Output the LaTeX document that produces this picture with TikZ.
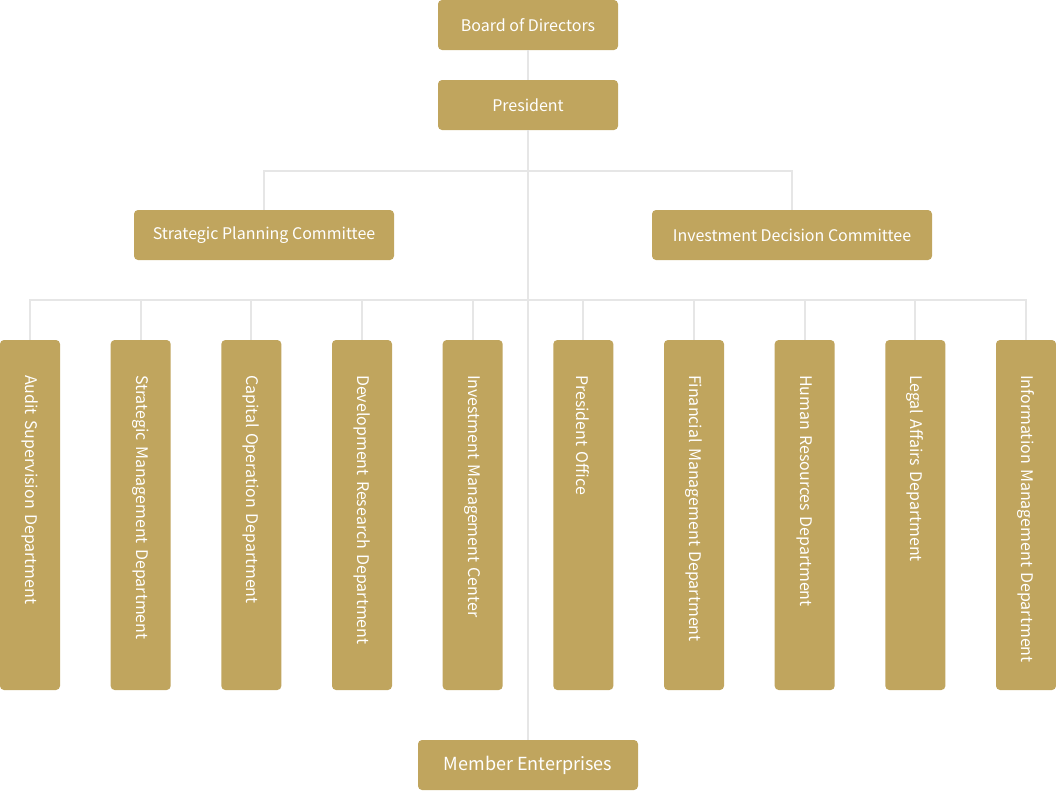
\documentclass[tikz,border=0pt]{standalone}
\usepackage{fontspec}
\setmainfont{Noto Sans CJK SC}
\usetikzlibrary{positioning}

\definecolor{gold}{HTML}{C0A55E}
\definecolor{linegray}{HTML}{E6E6E6}

\begin{document}
\begin{tikzpicture}[x=1pt,y=-1pt,
  box/.style={fill=gold,text=white,rounded corners=4pt,inner sep=0pt,
    minimum height=50pt,font=\fontsize{16}{19}\selectfont},
  dept/.style={fill=gold,text=white,rounded corners=4pt,rotate=-90,
    minimum width=350pt,minimum height=60pt,inner xsep=35pt,inner ysep=0pt,
    text width=280pt,align=left,font=\fontsize{16}{19}\selectfont},
  link/.style={draw=linegray,line width=2pt}]

\useasboundingbox (0,0) rectangle (1056,790);

% top of the chart
\node[box,minimum width=180pt] (board) at (528,25) {Board of Directors};
\node[box,minimum width=180pt] (president) at (528,105) {President};
\node[box,minimum width=260pt] (spc) at (264,235) {Strategic Planning Committee};
\node[box,minimum width=280pt] (idc) at (792,235) {Investment Decision Committee};
\node[box,minimum width=220pt,font=\fontsize{18}{21}\selectfont] (member) at (528,765) {Member Enterprises};

% departments
\foreach \name [count=\i from 0] in {Audit Supervision Department,
    Strategic Management Department,Capital Operation Department,
    Development Research Department,Investment Management Center,
    President Office,Financial Management Department,
    Human Resources Department,Legal Affairs Department,
    Information Management Department}
  \node[dept] (d\i) at (30+110.667*\i,515) {\mbox{\name}};

\coordinate (cbus) at (528,171);
\coordinate (dbus) at (528,300);

\draw[link] (board) -- (president);
\draw[link] (president) -- (member);
\draw[link] (spc.north) |- (cbus) -| (idc.north);
\draw[link] (d0.west) |- (dbus) -| (d9.west);
\foreach \i in {1,...,8}
  \draw[link] (d\i.west) -- (d\i.west |- dbus);

\end{tikzpicture}
\end{document}
